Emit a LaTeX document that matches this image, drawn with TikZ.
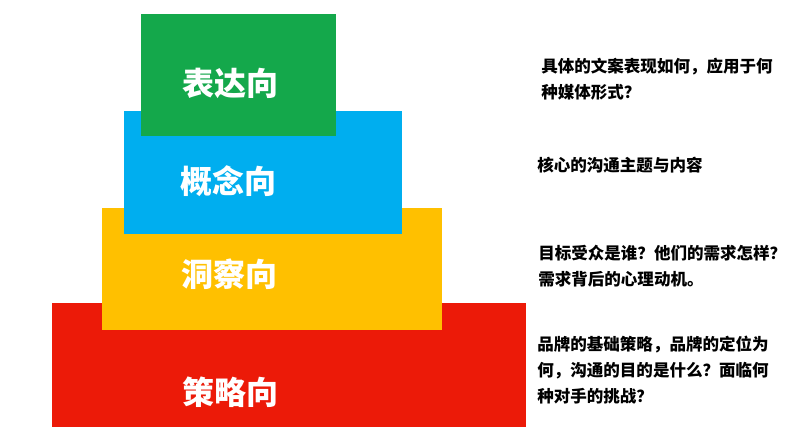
\documentclass[tikz,border=0pt]{standalone}
\usepackage{fontspec}
\newfontfamily\cjk{Noto Sans CJK SC}
\definecolor{cgreen}{HTML}{14A84B}
\definecolor{cblue}{HTML}{00AEEF}
\definecolor{cyellow}{HTML}{FFC000}
\definecolor{cred}{HTML}{EC1A08}
\tikzset{
  layer/.style={fill=#1, draw=none},
  title/.style={text=white, font=\cjk\bfseries\fontsize{24}{28}\selectfont, inner sep=0pt},
  desc/.style={anchor=west, align=left, text=black, inner sep=0pt,
    font=\cjk\bfseries\fontsize{12.4}{19.5}\selectfont}
}
\begin{document}
\begin{tikzpicture}[x=0.75pt,y=-0.75pt]
\useasboundingbox (0,0) rectangle (799,427);
\fill[white] (0,0) rectangle (799,427);
% layers
\path[layer=cred]    (52,303) rectangle (526,427);
\path[layer=cyellow] (102,208) rectangle (442,330);
\path[layer=cblue]   (124,111) rectangle (402,234);
\path[layer=cgreen]  (141,14) rectangle (336,136);
% titles
\node[title] (t1) at (230,83) {表达向};
\node[title] (t2) at (228,181) {概念向};
\node[title] (t3) at (229,274) {洞察向};
\node[title] (t4) at (230,392) {策略向};
% descriptions
\node[desc] (d1) at (541,79) {具体的文案表现如何，应用于何\\种媒体形式？};
\node[desc] (d2) at (537,165) {核心的沟通主题与内容};
\node[desc] (d3) at (538,266) {目标受众是谁？他们的需求怎样？\\需求背后的心理动机。};
\node[desc] (d4) at (537,370) {品牌的基础策略，品牌的定位为\\何，沟通的目的是什么？面临何\\种对手的挑战？};
\end{tikzpicture}
\end{document}
